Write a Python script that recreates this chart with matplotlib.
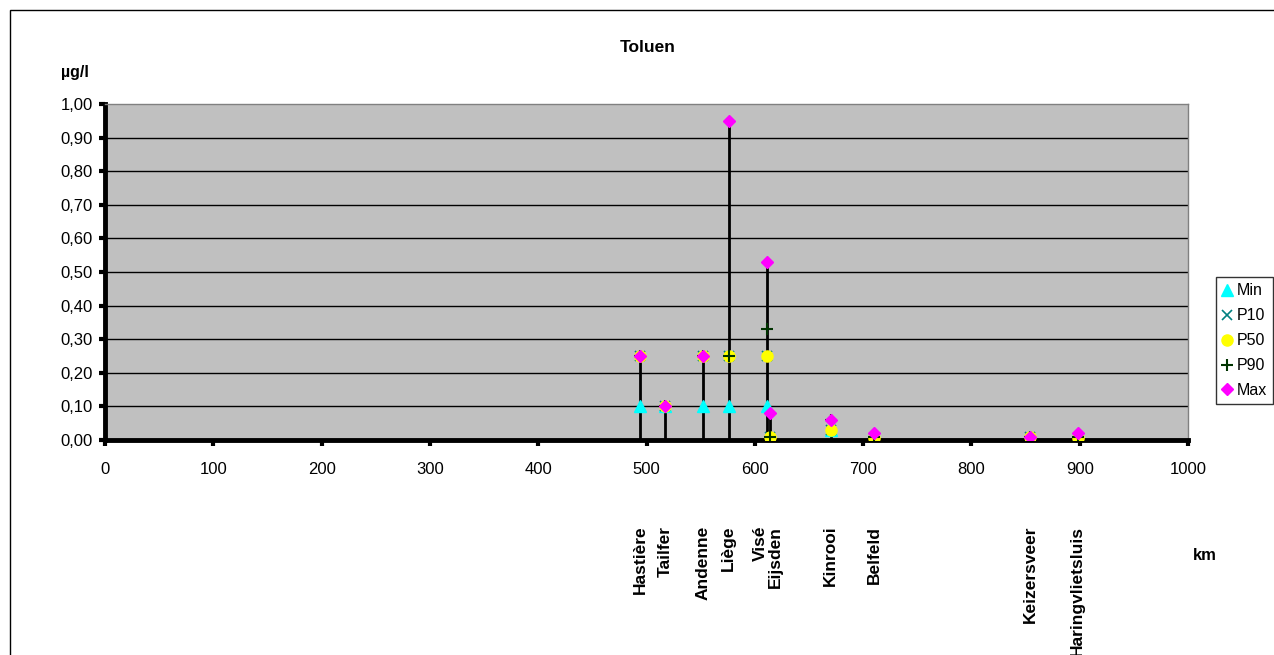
import matplotlib
matplotlib.use("Agg")
import matplotlib.pyplot as plt
from matplotlib.patches import Rectangle

plt.rcParams['font.family'] = ['Liberation Sans', 'DejaVu Sans']

# Stations along the Meuse (river km) with Toluene statistics in µg/l
stations = ["Hastière", "Tailfer", "Andenne", "Liège", "Visé", "Eijsden",
            "Kinrooi", "Belfeld", "Keizersveer", "Haringvlietsluis"]
km = [494, 517, 552, 576, 611, 614, 670, 710, 854, 898]
v_min = [0.10, 0.10, 0.10, 0.10, 0.10, 0.005, 0.03, 0.005, 0.01, 0.005]
v_p10 = [0.25, 0.10, 0.25, 0.25, 0.25, 0.01, 0.03, 0.005, 0.01, 0.005]
v_p50 = [0.25, 0.10, 0.25, 0.25, 0.25, 0.01, 0.03, 0.005, 0.01, 0.005]
v_p90 = [0.25, 0.10, 0.25, 0.25, 0.33, 0.01, 0.06, 0.01, 0.01, 0.01]
v_max = [0.25, 0.10, 0.25, 0.95, 0.53, 0.08, 0.06, 0.02, 0.01, 0.02]
# horizontal nudge (km) for the two close station names
label_shift = [0, 0, 0, 0, -6, 5, 0, 0, 0, 0]

x_ticks = list(range(0, 1001, 100))
y_ticks = [i / 10 for i in range(11)]

fig = plt.figure(figsize=(12.74, 6.55), dpi=100)
fig.patch.set_facecolor("white")

# outer chart frame
fig.add_artist(Rectangle((10 / 1274, -0.1), 1.2, 1 - 10 / 655 + 0.1,
                         transform=fig.transFigure, fill=False,
                         edgecolor="black", linewidth=1.0))

ax = fig.add_axes([105 / 1274, 1 - 440 / 655, (1188 - 105) / 1274, (440 - 104) / 655])
ax.set_facecolor("#C0C0C0")
ax.set_xlim(0, 1000)
ax.set_ylim(0, 1.0)

for y in y_ticks[1:-1]:
    ax.axhline(y, color="black", linewidth=1.0, zorder=1)

# vertical range lines from zero to the maximum
ax.vlines(km, 0, v_max, color="black", linewidth=2.0, zorder=2)

ax.plot(km, v_min, linestyle="none", marker="^", markersize=8.5,
        color="#00FFFF", label="Min", zorder=3)
ax.plot(km, v_p10, linestyle="none", marker="x", markersize=7,
        markeredgewidth=1.2, color="#008080", label="P10", zorder=4)
ax.plot(km, v_p50, linestyle="none", marker="o", markersize=8,
        color="#FFFF00", label="P50", zorder=5)
ax.plot(km, v_p90, linestyle="none", marker="+", markersize=9,
        markeredgewidth=1.5, color="#003300", label="P90", zorder=6)
ax.plot(km, v_max, linestyle="none", marker="D", markersize=6.5,
        color="#FF00FF", label="Max", zorder=7)

ax.set_xticks(x_ticks)
ax.set_xticklabels([str(v) for v in x_ticks], fontsize=12)
ax.set_yticks(y_ticks)
ax.set_yticklabels([f"{v:.2f}".replace(".", ",") for v in y_ticks], fontsize=12)
ax.tick_params(axis="both", direction="out", length=4, width=3, color="black")
ax.tick_params(axis="x", pad=12)
ax.tick_params(axis="y", pad=5)

for side in ("left", "bottom"):
    ax.spines[side].set_linewidth(3.5)
    ax.spines[side].set_color("black")
for side in ("top", "right"):
    ax.spines[side].set_linewidth(1.0)
    ax.spines[side].set_color("#808080")

# station names below the axis
for name, k, dk in zip(stations, km, label_shift):
    ax.text(k + dk, -0.255, name, rotation=90, ha="center", va="top",
            fontsize=12.5, fontweight="bold", transform=ax.transData,
            clip_on=False)

fig.text(648 / 1274, 1 - 47 / 655, "Toluen", ha="center", va="center",
         fontsize=12.5, fontweight="bold")
fig.text(75 / 1274, 1 - 72 / 655, "µg/l", ha="center", va="center",
         fontsize=11.5, fontweight="bold")
fig.text(1205 / 1274, 1 - 555 / 655, "km", ha="center", va="center",
         fontsize=12, fontweight="bold")

leg = fig.legend(loc="upper left", bbox_to_anchor=(1216 / 1274, 1 - 277 / 655),
                 frameon=True, fancybox=False, fontsize=11.5, handlelength=0.6,
                 handletextpad=0.3, borderpad=0.4, labelspacing=0.62,
                 borderaxespad=0)
leg.get_frame().set_edgecolor("black")
leg.get_frame().set_linewidth(1.0)

fig.savefig("out.png", dpi=100)
